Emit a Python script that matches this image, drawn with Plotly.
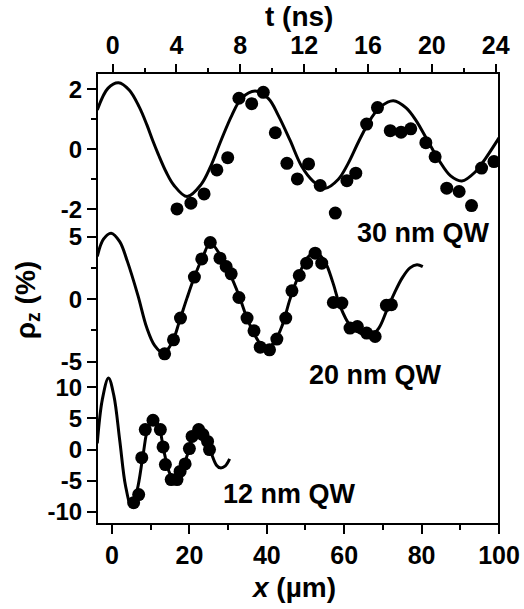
import plotly.graph_objects as go

# ---- data (x in µm, rho_z in %) ----
x30_dots = [16.8, 20.4, 23.8, 27.1, 29.9, 32.8, 36.1, 39.1, 42.2, 45.2, 47.9, 50.8, 53.8, 57.7,
            60.7, 63.0, 65.8, 68.6, 71.9, 74.7, 77.2, 81.1, 83.5, 86.5, 89.7, 92.9, 95.5, 98.7]
y30_dots = [-1.99, -1.80, -1.49, -0.69, -0.28, 1.70, 1.52, 1.90, 0.55, -0.47, -0.99, -0.49, -1.21, -2.13,
            -1.05, -0.80, 0.84, 1.39, 0.62, 0.57, 0.68, 0.22, -0.25, -1.30, -1.41, -1.88, -0.63, -0.41]
x30_fit = [-3.8, -1.0, 1.7, 4.5, 7, 9, 10.5, 12, 14, 16, 19.4, 23, 25.5, 28.2, 31, 33.5, 37.0, 40.5,
           43, 46, 49, 52, 55.1, 58.5, 61, 63.9, 67, 69.5, 72.7, 76, 78.5, 81.5, 84.5, 87.5, 90.4,
           94, 96.5, 100]
y30_fit = [1.31, 2.04, 2.22, 1.97, 1.42, 0.82, 0.3, -0.18, -0.76, -1.2, -1.58, -1.18, -0.57, 0.3, 1.14,
           1.70, 1.94, 1.68, 1.12, 0.3, -0.57, -1.07, -1.30, -1.0, -0.48, 0.3, 1.04, 1.43, 1.62, 1.38,
           0.97, 0.3, -0.37, -0.89, -1.06, -0.74, -0.31, 0.38]

x20_dots = [13.6, 15.9, 17.7, 21.3, 23.2, 25.4, 27.9, 29.5, 30.8, 32.8, 34.9, 36.7, 38.3, 40.7, 42.6,
            44.9, 46.5, 48.4, 50.3, 52.5, 54.2, 57.2, 59.4, 61.5, 63.4, 65.8, 68.0, 70.9, 72.2]
y20_dots = [-4.38, -3.26, -1.52, 1.76, 3.22, 4.53, 3.28, 2.61, 2.02, 0.13, -1.52, -2.54, -3.85, -4.06,
            -3.20, -1.52, 0.66, 1.89, 2.88, 3.68, 2.88, -0.27, -0.32, -2.32, -2.19, -2.72, -2.99, -0.50, -0.45]
x20_fit = [-3.8, -2.2, -0.2, 2.0, 4.0, 6.7, 9.0, 11.0, 13.3, 15.5, 17.5, 19.4, 21.5, 23.5, 25.4, 28,
           30.5, 32.8, 35, 37.5, 39.6, 42, 44, 46, 48.5, 50.5, 52.5, 55, 57, 59, 61.5, 64, 67, 69, 71,
           73, 75, 77, 78.8, 80.3]
y20_fit = [3.41, 4.8, 5.28, 4.6, 3.0, 0.3, -2.3, -3.7, -4.32, -3.5, -1.7, 0.1, 1.95, 3.4, 4.5, 3.5,
           2.0, 0.3, -1.6, -3.2, -4.05, -3.4, -2.1, 0.0, 2.1, 3.3, 3.8, 3.0, 1.4, -0.6, -2.1, -2.7,
           -2.9, -2.3, -0.9, 0.5, 1.7, 2.5, 2.75, 2.6]

x12_dots = [5.6, 6.9, 7.7, 8.6, 10.6, 12.5, 13.2, 13.8, 15.3, 16.8, 17.6, 18.9, 20.0, 20.7, 22.4,
            23.5, 24.7, 25.2]
y12_dots = [-8.5, -7.2, -1.3, 3.2, 4.7, 3.2, 0.43, -2.4, -4.8, -4.8, -3.5, -2.3, 0.16, 2.1, 3.2,
            2.4, 1.3, 0.0]
x12_fit = [-3.8, -2.5, -0.9, 0.5, 2.0, 3.5, 5.0, 6.5, 8.0, 9.3, 10.6, 12.0, 13.5, 15.0, 16.3, 17.8,
           19.5, 21.0, 22.4, 24.0, 25.5, 27.0, 28.0, 29.3, 30.4]
y12_fit = [1.0, 8.0, 11.47, 8.6, 1.5, -5.8, -9.07, -6.5, -1.0, 3.5, 4.8, 3.9, -0.5, -3.9, -4.8, -3.6,
           -0.8, 2.3, 3.3, 2.2, -0.3, -2.5, -2.93, -2.6, -1.5]

x_ticks = [0, 20, 40, 60, 80, 100]
t_ticks = [0, 4, 8, 12, 16, 20, 24]
y30_ticks = [-2, 0, 2]
y20_ticks = [-5, 0, 5]
y12_ticks = [-10, -5, 0, 5, 10]
labels = ["30 nm QW", "20 nm QW", "12 nm QW"]


def bold_labels(vals):
    return ["<b>%s</b>" % v for v in vals]


FONT = "Liberation Sans, Arial, sans-serif"
fig = go.Figure()

panels = [(x30_fit, y30_fit, x30_dots, y30_dots, "y"),
          (x20_fit, y20_fit, x20_dots, y20_dots, "y2"),
          (x12_fit, y12_fit, x12_dots, y12_dots, "y3")]
for xf, yf, xd, yd, ax in panels:
    fig.add_trace(go.Scatter(x=xf, y=yf, mode="lines", xaxis="x", yaxis=ax,
                             line=dict(color="black", width=3, shape="spline", smoothing=1.0),
                             showlegend=False, hoverinfo="skip"))
    fig.add_trace(go.Scatter(x=xd, y=yd, mode="markers", xaxis="x", yaxis=ax,
                             marker=dict(color="black", size=13),
                             showlegend=False))

tickfont_x = dict(family=FONT, size=25, color="black")
tickfont_y = dict(family=FONT, size=24, color="black")

common_y = dict(showgrid=False, zeroline=False, showline=False, ticks="outside", ticklen=9,
                tickwidth=2, tickcolor="black", tickfont=tickfont_y, anchor="x", automargin=False)

fig.update_layout(
    width=524, height=609,
    margin=dict(l=97, r=25, t=73, b=85, autoexpand=False),
    paper_bgcolor="white", plot_bgcolor="white",
    showlegend=False,
    xaxis=dict(range=[-3.87, 100], tickvals=x_ticks, ticktext=bold_labels(x_ticks),
               showgrid=False, zeroline=False, showline=False, automargin=False,
               ticks="outside", ticklen=9, tickwidth=2, tickcolor="black", tickfont=tickfont_x,
               anchor="y3", domain=[0, 1],
               minor=dict(ticks="outside", ticklen=5, tickwidth=2, tickcolor="black", dtick=10,
                          tick0=0, showgrid=False)),
    xaxis2=dict(range=[-0.98, 24.21], tickvals=t_ticks, ticktext=bold_labels(t_ticks),
                overlaying="x", side="top", anchor="free", automargin=False,
                position=1, showgrid=False, zeroline=False, showline=False,
                ticks="outside", ticklen=9, tickwidth=2, tickcolor="black", tickfont=tickfont_x,
                minor=dict(ticks="outside", ticklen=5, tickwidth=2, tickcolor="black", dtick=2,
                           tick0=0, showgrid=False)),
    yaxis=dict(domain=[0.661, 1.0], range=[-2.557, 2.543], tickvals=y30_ticks,
               ticktext=bold_labels(y30_ticks),
               minor=dict(ticks="outside", ticklen=5, tickwidth=2, tickcolor="black", dtick=1,
                          tick0=0, showgrid=False), **common_y),
    yaxis2=dict(domain=[0.336, 0.661], range=[-5.87, 5.86], tickvals=y20_ticks,
                ticktext=bold_labels(y20_ticks),
                minor=dict(ticks="outside", ticklen=5, tickwidth=2, tickcolor="black", dtick=2.5,
                           tick0=0, showgrid=False), **common_y),
    yaxis3=dict(domain=[0.0, 0.336], range=[-11.92, 12.35], tickvals=y12_ticks,
                ticktext=bold_labels(y12_ticks), **common_y),
)

# frame around the whole plot area
fig.add_shape(type="rect", xref="paper", yref="paper", x0=0, x1=1, y0=0, y1=1,
              line=dict(color="black", width=2), layer="above")

# invisible trace so the top axis is drawn
fig.add_trace(go.Scatter(x=[0, 24], y=[0, 0], xaxis="x2", yaxis="y", mode="markers",
                         marker=dict(opacity=0), showlegend=False, hoverinfo="skip"))

lab_font = dict(family=FONT, size=27, color="black", weight="bold")
for txt, xp, yp in zip(labels, [0.811, 0.692, 0.480], [0.645, 0.331, 0.067]):
    fig.add_annotation(text=txt, xref="paper", yref="paper", x=xp, y=yp, showarrow=False,
                       font=lab_font, xanchor="center", yanchor="middle")

title_font = dict(family=FONT, size=28, color="black", weight="bold")
fig.add_annotation(text="t (ns)", xref="paper", yref="paper", x=0.502, y=1.126, showarrow=False,
                   font=title_font, xanchor="center", yanchor="middle")
fig.add_annotation(text="<i>x</i> (µm)", xref="paper", yref="paper", x=0.49, y=-0.141,
                   showarrow=False, font=title_font, xanchor="center", yanchor="middle")
fig.add_annotation(text="ρ<sub>z</sub> (%)", xref="paper", yref="paper", x=-0.173, y=0.497,
                   showarrow=False, font=title_font, textangle=-90, xanchor="center", yanchor="middle")

fig.write_html("out.html", config={"displayModeBar": False},
               post_script="document.body.style.margin='0';document.body.style.padding='0';")
